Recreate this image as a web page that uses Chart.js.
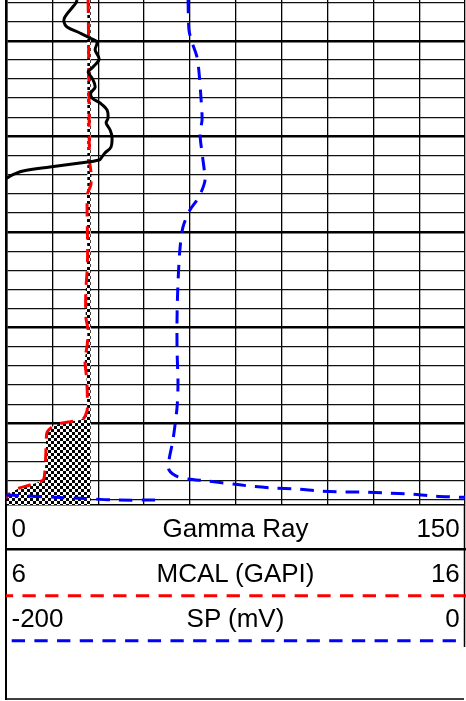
<!DOCTYPE html>
<html>
<head>
<meta charset="utf-8">
<script src="https://cdn.jsdelivr.net/npm/chart.js@4.4.1/dist/chart.umd.min.js"></script>
<style>
  html, body { margin: 0; padding: 0; background: #fff; }
  body { width: 466px; height: 701px; position: relative; overflow: hidden; }
  #c { position: absolute; left: 0; top: 0; }
  #foot { position: absolute; left: 0; top: 0; }
</style>
</head>
<body>
<canvas id="c" width="466" height="506" style="width:466px;height:506px"></canvas>
<svg id="foot" width="466" height="701" xmlns="http://www.w3.org/2000/svg"></svg>
<script>
// ---------- data ----------
const depthRange = [995.74, 1048.54];       // ft, top / bottom of the track
const depthGrid  = [];                       // grid every 2 ft, heavy every 10 ft
for (let d = 996; d <= 1048; d += 2) depthGrid.push(d);

const grRange  = [0, 150];
const calRange = [6, 16];
const spRange  = [-200, 0];

const trackNames = ['Gamma Ray', 'MCAL (GAPI)', 'SP (mV)'];
const trackMins  = ['0', '6', '-200'];
const trackMaxs  = ['150', '16', '0'];

const grDepth = [995.74, 996.05, 996.58, 997.52, 998.04, 998.56, 999.19, 999.71, 1000.13, 1000.97,
                 1001.91, 1002.75, 1003.27, 1003.90, 1004.84, 1005.46, 1005.99, 1006.51, 1007.24, 1008.08,
                 1008.60, 1009.33, 1010.06, 1011.11, 1011.74, 1012.16, 1012.47, 1012.78, 1013.20, 1013.62,
                 1014.04, 1014.35, 1014.77, 1015.5];
const grValues = [23.1, 22.7, 21.4, 19.1, 18.8, 19.8, 24.0, 27.3, 29.6, 29.0,
                  30.3, 28.3, 26.7, 28.0, 29.0, 27.6, 28.0, 30.6, 32.9, 33.2,
                  32.6, 33.9, 34.5, 34.2, 32.2, 31.2, 30.3, 24.0, 14.2, 5.4,
                  1.8, 0.2, -3, -8];

const calDepth = [995.74, 999.92, 1006.20, 1012.47, 1014.04, 1015.08, 1016.13, 1021.88, 1023.97, 1026.06,
                  1028.88, 1030.24, 1031.81, 1033.38, 1034.95, 1036.52, 1038.61, 1039.45, 1039.65, 1039.86,
                  1040.02, 1040.39, 1041.01, 1042.79, 1044.88, 1045.93, 1046.45, 1046.76, 1047.29, 1047.81,
                  1048.54];
const calValues = [7.78, 7.79, 7.80, 7.81, 7.85, 7.84, 7.76, 7.77, 7.76, 7.73,
                   7.73, 7.78, 7.76, 7.71, 7.74, 7.76, 7.76, 7.69, 7.60, 7.34,
                   7.17, 6.99, 6.88, 6.86, 6.84, 6.80, 6.51, 6.29, 6.08, 5.99,
                   5.80];

const bitSize = 7.8;

const spDepth = [995.74, 998.88, 1000.13, 1001.70, 1003.37, 1005.88, 1008.29, 1009.65, 1011.74, 1013.20,
                 1014.56, 1015.61, 1016.65, 1017.70, 1019.47, 1021.67, 1025.33, 1028.88, 1032.34, 1035.78,
                 1038.30, 1041.75, 1043.84, 1044.88, 1045.61, 1045.82, 1046.03, 1046.35, 1046.56, 1046.76,
                 1046.87, 1047.08, 1047.18, 1047.18, 1047.29, 1047.39, 1047.60, 1047.71, 1047.76, 1047.80,
                 1048.02, 1048.02, 1047.86, 1047.71, 1047.50, 1047.40];
const spValues = [-120.8, -120.4, -119.1, -116.9, -116.0, -115.2, -114.7, -115.6, -114.7, -113.9,
                  -113.4, -114.7, -116.9, -120.0, -123.0, -124.3, -125.2, -125.6, -125.6, -125.2,
                  -125.6, -127.4, -129.1, -129.1, -125.2, -120.8, -112.5, -101.2, -93.8, -83.7,
                  -73.3, -63.2, -53.2, -44.4, -34.0, -24.0, -14.0, -3.5, 2, null,
                  -135.2, -152.7, -165.8, -181.0, -199.8, -210];

// ---------- helpers ----------
const pts = (vals, deps) => vals.map((v, i) => ({ x: v, y: deps[i] }));

function checker() {
  const p = document.createElement('canvas');
  p.width = 6; p.height = 6;
  const g = p.getContext('2d');
  g.fillStyle = '#fff'; g.fillRect(0, 0, 6, 6);
  g.fillStyle = '#000'; g.fillRect(0, 0, 3, 3); g.fillRect(3, 3, 3, 3);
  return document.getElementById('c').getContext('2d').createPattern(p, 'repeat');
}
const pat = checker();

const whiteBg = {
  id: 'whiteBg',
  beforeDraw(chart) {
    const ctx = chart.ctx;
    ctx.save(); ctx.fillStyle = '#fff'; ctx.fillRect(0, 0, chart.width, chart.height); ctx.restore();
  }
};

new Chart(document.getElementById('c'), {
  type: 'line',
  data: {
    datasets: [
      { label: 'Gamma Ray', data: pts(grValues, grDepth), xAxisID: 'x', yAxisID: 'y',
        borderColor: '#000', borderWidth: 3, tension: 0.35, pointRadius: 0, fill: false, clip: 0 },
      { label: 'SP (mV)', data: pts(spValues, spDepth), xAxisID: 'xSp', yAxisID: 'y',
        borderColor: '#0000ff', borderWidth: 3, borderDash: [13.3, 9.4], tension: 0.3,
        pointRadius: 0, fill: false, clip: 0, spanGaps: false },
      { label: 'MCAL (GAPI)', data: pts(calValues, calDepth), xAxisID: 'xCal', yAxisID: 'y',
        borderColor: '#ff0000', borderWidth: 3, borderDash: [13.3, 9.4], tension: 0.2,
        pointRadius: 0, fill: { target: 3 }, backgroundColor: pat, clip: 0 },
      { label: 'Bit size', data: pts([bitSize, bitSize], depthRange), xAxisID: 'xCal', yAxisID: 'y',
        borderColor: pat, borderWidth: 3.4, pointRadius: 0, fill: false, clip: 0 }
    ]
  },
  options: {
    indexAxis: 'y',
    responsive: false,
    animation: false,
    events: [],
    layout: { padding: { left: 6.5, right: 1, top: 0, bottom: 1 } },
    plugins: { legend: { display: false }, tooltip: { enabled: false } },
    scales: {
      x: {
        type: 'linear', position: 'bottom', min: grRange[0], max: grRange[1],
        ticks: { display: false, stepSize: 15 },
        grid: { color: '#000', lineWidth: 1.3, drawTicks: false },
        border: { display: true, color: '#000', width: 1.5 }
      },
      xCal: { type: 'linear', display: false, min: calRange[0], max: calRange[1] },
      xSp:  { type: 'linear', display: false, min: spRange[0], max: spRange[1] },
      y: {
        type: 'linear', position: 'left', reverse: true, min: depthRange[0], max: depthRange[1],
        afterBuildTicks: (s) => { s.ticks = depthGrid.map(v => ({ value: v })); },
        ticks: { display: false },
        grid: {
          drawTicks: false,
          color: (c) => (c.tick && c.tick.value % 10 === 0) ? '#000' : '#111',
          lineWidth: (c) => (c.tick && c.tick.value % 10 === 0) ? 2.4 : 1.3
        },
        border: { display: true, color: '#000', width: 2.5 }
      }
    }
  },
  plugins: [whiteBg]
});

// ---------- footer (scale headers) ----------
const NS = 'http://www.w3.org/2000/svg';
const svg = document.getElementById('foot');
function el(tag, attrs, text) {
  const e = document.createElementNS(NS, tag);
  for (const k in attrs) e.setAttribute(k, attrs[k]);
  if (text !== undefined) e.textContent = text;
  svg.appendChild(e);
  return e;
}
// frame
el('line', { x1: 6, y1: 505, x2: 6, y2: 700, stroke: '#000', 'stroke-width': 2 });
el('line', { x1: 464.5, y1: 505, x2: 464.5, y2: 647, stroke: '#000', 'stroke-width': 1.5 });
el('line', { x1: 5, y1: 549.2, x2: 466, y2: 549.2, stroke: '#000', 'stroke-width': 2.5 });
el('line', { x1: 5, y1: 699, x2: 464, y2: 699, stroke: '#000', 'stroke-width': 1.5 });
// legend lines
el('line', { x1: 6, y1: 595.7, x2: 466, y2: 595.7, stroke: '#ff0000', 'stroke-width': 3,
             'stroke-dasharray': '13.3 9.38', 'stroke-dashoffset': 6.2 });
el('line', { x1: 11.7, y1: 640.7, x2: 456, y2: 640.7, stroke: '#0000ff', 'stroke-width': 3,
             'stroke-dasharray': '13.3 9.38' });
// texts
const baselines = [537.3, 581.8, 627.3];
const font = { 'font-family': "'Liberation Sans', Arial, sans-serif", 'font-size': 26, fill: '#000' };
trackNames.forEach((name, i) => {
  el('text', Object.assign({ x: 11.5, y: baselines[i], 'text-anchor': 'start' }, font), trackMins[i]);
  el('text', Object.assign({ x: 235.5, y: baselines[i], 'text-anchor': 'middle' }, font), name);
  el('text', Object.assign({ x: 459.8, y: baselines[i], 'text-anchor': 'end' }, font), trackMaxs[i]);
});
</script>
</body>
</html>
